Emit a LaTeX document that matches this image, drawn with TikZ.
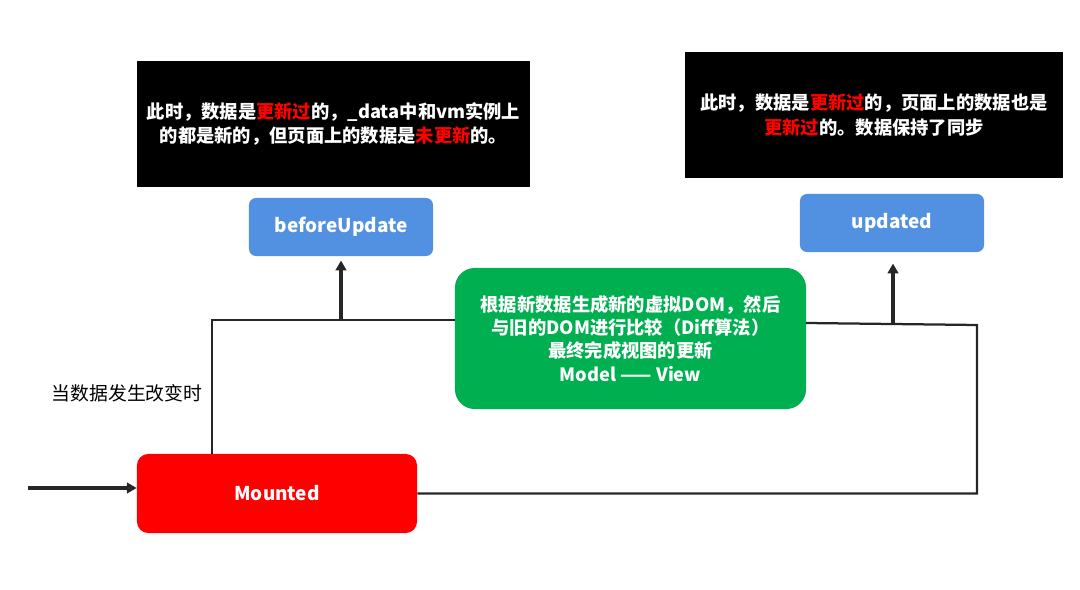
\documentclass[tikz,border=0pt]{standalone}
\usepackage{fontspec}
\setmainfont{Noto Sans CJK SC}
\usepackage{xcolor}
\usetikzlibrary{arrows.meta, positioning}

\definecolor{hookblue}{RGB}{82,145,226}
\definecolor{diffgreen}{RGB}{0,176,80}
\definecolor{mountred}{RGB}{255,0,0}

\begin{document}
\begin{tikzpicture}[
    x=0.025cm, y=-0.025cm,
    note/.style={fill=black, text=white, rectangle, minimum width=9.8cm, minimum height=3.15cm, inner sep=0pt, align=center, font=\bfseries\fontsize{13}{17.5}\selectfont},
    hook/.style={fill=hookblue, text=white, rectangle, rounded corners=5pt, minimum width=4.6cm, minimum height=1.45cm, font=\bfseries\fontsize{13.5}{16}\selectfont},
    line/.style={draw=black!85, line width=1.6pt},
    arrow/.style={line, line width=2.4pt, -{Triangle[length=7pt,width=7.5pt]}}
]
\useasboundingbox (0,0) rectangle (1080,590);

\node[note] (note1) at (333.5,124) {此时，数据是\textcolor{red}{更新过}的，\_data中和vm实例上\\的都是新的，但页面上的数据是\textcolor{red}{未更新}的。};
\node[note, minimum width=9.45cm] (note2) at (874,115) {此时，数据是\textcolor{red}{更新过}的，页面上的数据也是\\\textcolor{red}{更新过}的。数据保持了同步};

\node[hook] (before) at (341,227) {beforeUpdate};
\node[hook] (updated) at (892,223) {updated};

\node[fill=diffgreen, text=white, rounded corners=14pt, minimum width=8.775cm, minimum height=3.525cm, inner sep=0pt, align=center, font=\bfseries\fontsize{13}{16.5}\selectfont] (diff) at (630.5,338.5) {根据新数据生成新的虚拟DOM，然后\\与旧的DOM进行比较（Diff算法）\\最终完成视图的更新\\Model —— View};

\node[fill=mountred, text=white, rounded corners=8pt, minimum width=7cm, minimum height=1.975cm, font=\bfseries\fontsize{13.5}{16}\selectfont] (mounted) at (277,493.5) {Mounted};

\node[font=\fontsize{13.4}{16}\selectfont] (change) at (127,393) {当数据发生改变时};

% loop wires
\coordinate (lt) at (212,320);
\coordinate (lj) at (341,320);
\coordinate (rs) at (806,323);
\coordinate (rj) at (893,323.5);
\coordinate (rt) at (977,325);
\coordinate (start) at (28,488);

\draw[line] (lt |- mounted.north) -- (lt) -- (diff.west |- lt);
\draw[line] (rs) -- (rt) -- (rt |- mounted.east) -- (mounted.east);
\draw[arrow, shorten >=3pt] (lj) -- (before.south);
\draw[arrow, shorten >=8pt] (rj) -- (updated.south -| rj);
\draw[arrow] (start) -- (start -| mounted.west);
\end{tikzpicture}
\end{document}
